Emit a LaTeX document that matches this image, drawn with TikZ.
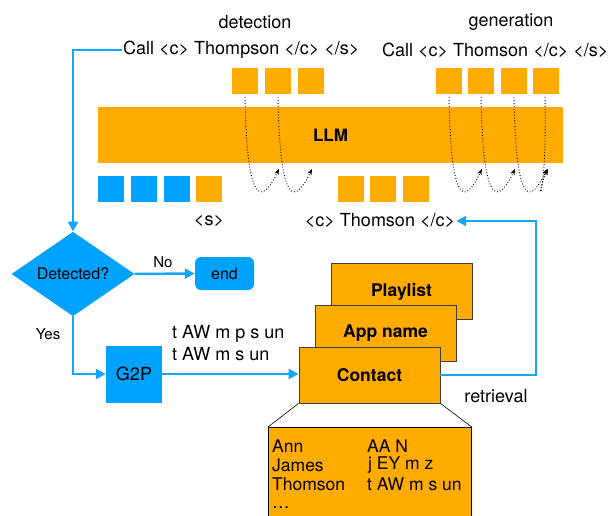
\documentclass[tikz,border=0pt]{standalone}
\usepackage{fontspec}
\setmainfont{TeX Gyre Heros}
\usetikzlibrary{shapes.geometric,arrows.meta,calc}
\definecolor{kor}{RGB}{255,171,0}
\definecolor{kbl}{RGB}{0,162,255}
\definecolor{kline}{RGB}{20,165,255}
\begin{document}
\begin{tikzpicture}[x=1pt,y=-1pt,
  tok/.style={fill=kor,minimum width=26pt,minimum height=26pt,inner sep=0pt},
  tokb/.style={tok,fill=kbl},
  bl/.style={draw=kline,line width=2.5pt,-{Triangle[length=10pt,width=10pt]}},
  lab/.style={font=\fontsize{18}{21}\selectfont,inner sep=1pt},
  small/.style={font=\fontsize{15}{18}\selectfont,inner sep=1pt},
  flow/.style={fill=kbl,inner sep=0pt,font=\fontsize{16}{19}\selectfont},
  dbbox/.style={fill=kor,draw=black!75,line width=0.8pt,minimum width=141pt,minimum height=56pt,inner sep=0pt,font=\fontsize{17.5}{20}\selectfont\bfseries},
  tbltxt/.style={font=\fontsize{17.5}{20}\selectfont,inner sep=0pt,anchor=west},
  dotc/.style={draw=black,dotted,line width=0.9pt,-{Stealth[length=6pt,width=4.5pt]}}
]
\useasboundingbox (0,0) rectangle (613,516);

% top labels
\node[lab] (detl) at (255,22) {detection};
\node[lab] (genl) at (511,22) {generation};
\node[lab,anchor=west] (call1) at (122,50) {Call <c> Thompson </c> </s>};
\node[lab,anchor=west] (call2) at (381,50) {Call <c> Thomson </c> </s>};

% top tokens
\node[tok] (t1) at (245,81) {};
\node[tok] (t2) at (278,81) {};
\node[tok] (t3) at (311,81) {};
\node[tok] (g1) at (449,81) {};
\node[tok] (g2) at (481,81) {};
\node[tok] (g3) at (514,81) {};
\node[tok] (g4) at (546,81) {};

% LLM bar
\node[fill=kor,minimum width=465pt,minimum height=56pt,inner sep=0pt,font=\fontsize{17}{20}\selectfont\bfseries] (llm) at (330.5,135) {LLM};

% bottom tokens
\node[tokb] (b1) at (111,189) {};
\node[tokb] (b2) at (144,189) {};
\node[tokb] (b3) at (177,189) {};
\node[tok] (b4) at (209,189) {};
\node[tok] (m1) at (351,189) {};
\node[tok] (m2) at (383,189) {};
\node[tok] (m3) at (416,189) {};

\node[lab] (s) at (209,221) {<s>};
\node[lab] (thom) at (380,221) {<c> Thomson </c>};

% dotted autoregressive curves
\foreach \a/\b in {t1/t2,t2/t3,g1/g2,g2/g3,g3/g4}{
  \draw[dotc] ($(\a.south)+(0,3)$) .. controls ($(\a.south)+(2,121)$) and ($(\b |- 0,200)+(-14,0)$) .. ($(\b |- 0,169)+(1,0)$);
}
\coordinate (g5) at (547,81);
\draw[dotc] ($(g4.south)+(-1,3)$) .. controls ($(g4.south)+(1,121)$) and ($(g5 |- 0,200)+(-14,0)$) .. ($(g5 |- 0,169)+(1,0)$);

% flowchart
\node[diamond,flow,minimum width=123pt,minimum height=62pt] (det) at (73,274) {Detected?};
\node[flow,rounded corners=6pt,minimum width=59pt,minimum height=33pt] (end) at (224.5,273.5) {end};
\node[small] (no) at (163,262) {No};
\node[small] (yes) at (48,334) {Yes};
\node[flow,minimum width=56pt,minimum height=57pt,font=\fontsize{18}{21}\selectfont] (g2p) at (134,374) {G2P};
\node[lab,anchor=west] (ph1) at (171,334) {t AW m p s un};
\node[lab,anchor=west] (ph2) at (171,354) {t AW m s un};

% database boxes
\node[dbbox] (play) at (401.5,291.5) {Playlist};
\node[dbbox] (app) at (385.5,333) {App name};
\node[dbbox] (contact) at (369.5,375) {Contact};
\node[lab] (ret) at (496,396) {retrieval};
\coordinate (rc) at (536,300);

% table
\node[fill=kor,draw=black,line width=0.8pt,minimum width=203pt,minimum height=100pt,inner sep=0pt,anchor=north west] (tbl) at (268,427) {};
\draw[line width=0.6pt] (contact.south west) -- (tbl.north west);
\draw[line width=0.6pt] (contact.south east) -- (tbl.north east);
\node[tbltxt] (r1a) at (272,446) {Ann};
\node[tbltxt] (r1b) at (367,446) {AA N};
\node[tbltxt] (r2a) at (272,465) {James};
\node[tbltxt] (r2b) at (368,465) {j EY m z};
\node[tbltxt] (r3a) at (272,484) {Thomson};
\node[tbltxt] (r3b) at (367,484) {t AW m s un};
\node[tbltxt,anchor=base west] (r4a) at (272,508) {\dots};

% blue connectors
\draw[bl] (call1.west) -| (det.north);
\draw[bl] (det.east) -- (end.west);
\draw[bl] (det.south) |- (g2p.west);
\draw[bl] (g2p.east) -- (g2p.east -| contact.west);
\draw[bl] (contact.east) -| (rc) |- (thom.east);
\end{tikzpicture}
\end{document}
